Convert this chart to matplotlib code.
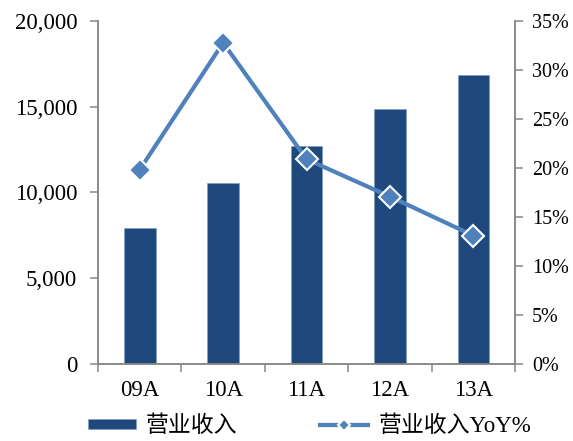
import numpy as np
import matplotlib
matplotlib.use('Agg')
import matplotlib.pyplot as plt
from matplotlib.ticker import FuncFormatter, FixedLocator

plt.rcParams['font.family'] = ['Liberation Serif', 'Noto Sans CJK SC', 'DejaVu Sans']

# Data
years = ['09A', '10A', '11A', '12A', '13A']
revenue = [7908, 10530, 12704, 14860, 16824]
yoy = [19.8, 32.75, 20.87, 17.06, 13.08]

# Colors
clr_bar = '#1F497D'
clr_line = '#4F81BD'
clr_axis = '#878787'

fig = plt.figure(figsize=(5.73, 4.41), dpi=100)
ax1 = fig.add_axes([0.171, 0.175, 0.728, 0.778])
ax2 = ax1.twinx()

x = np.arange(len(years))
bars = ax1.bar(x, revenue, width=0.38, color=clr_bar, edgecolor='#7F9CC4', linewidth=0.4,
               label='营业收入')
line, = ax2.plot(x, yoy, color=clr_line, lw=3.0, marker='D', ms=11, mfc=clr_line,
                 mec='white', mew=1.5, label='营业收入YoY%')

ax1.set_xlim(-0.5, len(years) - 0.5)
ax1.set_ylim(0, 20000)
ax2.set_ylim(0, 35)
ax1.set_yticks(np.arange(0, 20001, 5000))
ax2.set_yticks(np.arange(0, 36, 5))
ax1.yaxis.set_major_formatter(FuncFormatter(lambda v, p: f'{v:,.0f}'))
ax2.yaxis.set_major_formatter(FuncFormatter(lambda v, p: f'{v:.0f}%'))

# category labels in the middle, tick marks on the boundaries
ax1.xaxis.set_major_locator(FixedLocator(np.arange(-0.5, len(years), 1.0)))
ax1.xaxis.set_minor_locator(FixedLocator(x))
ax1.set_xticklabels([''] * (len(years) + 1))
ax1.set_xticklabels(years, minor=True)
ax1.tick_params(axis='x', which='minor', length=0, pad=12, labelsize=16.5)
ax1.tick_params(axis='x', which='major', length=6, width=1.1, color=clr_axis, direction='out')

for ax in (ax1, ax2):
    ax.spines['top'].set_visible(False)
    for s in ('left', 'right', 'bottom'):
        ax.spines[s].set_color(clr_axis)
        ax.spines[s].set_linewidth(1.1)
ax1.tick_params(axis='y', length=6, width=1.1, color=clr_axis, pad=9, labelsize=16.5)
ax2.tick_params(axis='y', length=6, width=1.1, color=clr_axis, pad=6, labelsize=14.5)

fig.legend(handles=[bars, line], loc='center', bbox_to_anchor=(0.54, 0.033), ncol=2,
           frameon=False, fontsize=16.5, handlelength=2.1, handleheight=0.35,
           columnspacing=3.6, handletextpad=0.45, markerscale=0.6)

fig.savefig('out.png', dpi=100)
